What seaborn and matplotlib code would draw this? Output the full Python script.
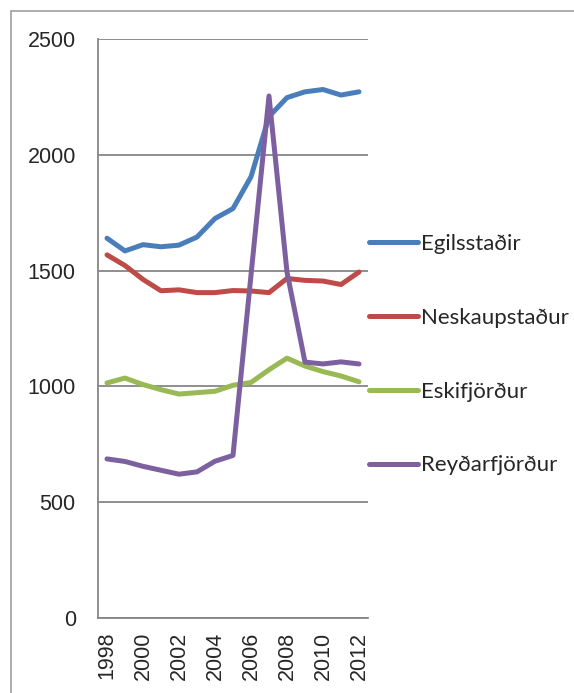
import numpy as np
import pandas as pd
import matplotlib
matplotlib.use("Agg")
import matplotlib.pyplot as plt
import seaborn as sns
from matplotlib.lines import Line2D

# Data
years = list(range(1998, 2013))
egilsstadir = [1640, 1585, 1612, 1603, 1610, 1645, 1725, 1768, 1905, 2165, 2247, 2272, 2282, 2258, 2272]
neskaupstadur = [1568, 1522, 1462, 1413, 1417, 1405, 1405, 1414, 1412, 1405, 1466, 1458, 1455, 1440, 1494]
eskifjordur = [1015, 1036, 1008, 986, 967, 973, 979, 1005, 1017, 1072, 1122, 1088, 1064, 1045, 1020]
reydarfjordur = [687, 676, 655, 638, 621, 631, 677, 702, 1480, 2254, 1494, 1105, 1097, 1106, 1097]
towns = ["Egilsstaðir", "Neskaupstaður", "Eskifjörður", "Reyðarfjörður"]
colors = ["#4A7EBB", "#BE4B48", "#98B954", "#7D60A0"]

df = pd.DataFrame({
    "year": years * 4,
    "value": egilsstadir + neskaupstadur + eskifjordur + reydarfjordur,
    "town": sum([[t] * len(years) for t in towns], []),
})

sns.set_style("white")
plt.rcParams['font.family'] = ['Liberation Sans', 'DejaVu Sans']

fig = plt.figure(figsize=(5.74, 6.93), dpi=100)
ax = fig.add_axes([0.1707, 0.1082, 0.4704, 0.8355])

sns.lineplot(data=df, x="year", y="value", hue="town", hue_order=towns,
             palette=colors, linewidth=3.6, ax=ax, legend=False,
             solid_capstyle="round", solid_joinstyle="round")

grid_c = "#868686"
ax.set_xlim(1997.5, 2012.5)
ax.set_ylim(0, 2500)
ax.set_yticks([0, 500, 1000, 1500, 2000, 2500])
ax.yaxis.grid(True, color=grid_c, linewidth=1.3)
ax.set_axisbelow(True)
ax.set_xticks(range(1998, 2013, 2))
ax.set_xticks(np.arange(1997.5, 2013, 1), minor=True)
ax.tick_params(axis="x", which="major", length=0, pad=10, labelrotation=90, labelsize=15.5)
ax.tick_params(axis="x", which="minor", length=6, width=1.2, color=grid_c, direction="out")
ax.tick_params(axis="y", length=7, width=1.2, color=grid_c, pad=9, labelsize=15.5)
ax.set_xlabel("")
ax.set_ylabel("")
for s in ["top", "right"]:
    ax.spines[s].set_visible(False)
for s in ["left", "bottom"]:
    ax.spines[s].set_color(grid_c)
    ax.spines[s].set_linewidth(1.3)

handles = [Line2D([0], [0], color=c, linewidth=3.6, solid_capstyle="round") for c in colors]
leg = fig.legend(handles, towns, loc="upper left", bbox_to_anchor=(0.608, 0.691),
                 frameon=False, handlelength=2.2, handletextpad=0.15,
                 labelspacing=2.42, prop={"family": "Lato", "size": 16})

# outer chart border (top and left)
fig.add_artist(Line2D([11 / 574, 1], [1 - 11 / 693, 1 - 11 / 693], color="#A0A0A0", linewidth=1.2))
fig.add_artist(Line2D([11 / 574, 11 / 574], [0, 1 - 11 / 693], color="#A0A0A0", linewidth=1.2))

fig.savefig("out.png", dpi=100)
